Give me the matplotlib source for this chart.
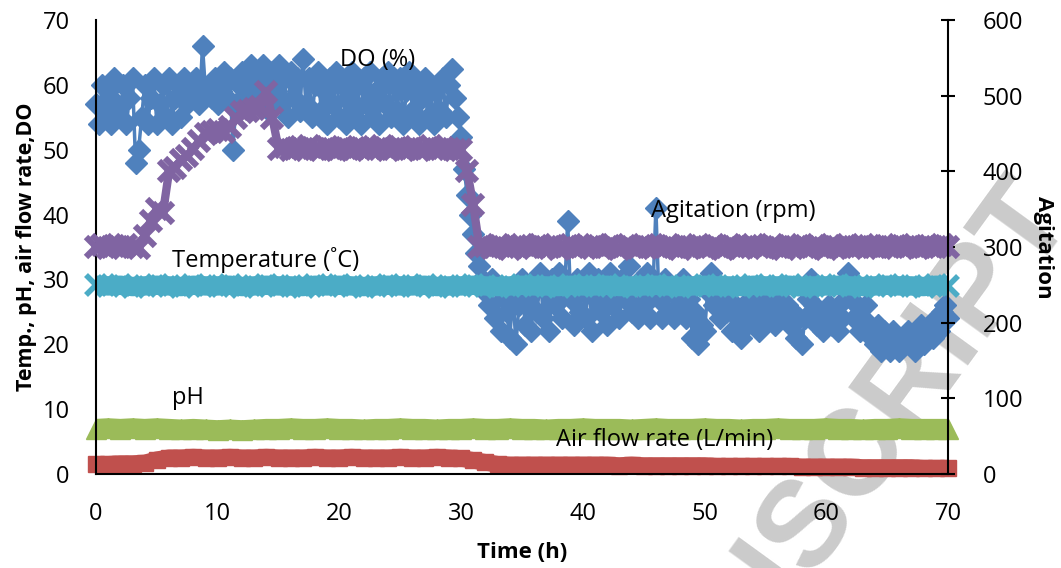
import numpy as np
import matplotlib.pyplot as plt

# ---------------------------------
# valores
# ---------------------------------

# DO (%), cada 0.25 h
do_pct = [
    57, 54, 60, 56,  59, 54, 61, 57,  55, 60, 54, 58,  61, 48, 50, 55,  60, 54, 58, 61,
    54, 57, 60, 55,  61, 54, 58, 60,  55, 61, 57, 59,  58, 61, 57, 66,  59, 60, 58, 61,
    57, 59, 62, 58,  61, 50, 57, 60,  62, 58, 61, 63,  59, 62, 58, 63,  60, 56, 62, 59,
    63, 57, 61, 55,  62, 58, 61, 56,  64, 57, 61, 55,  60, 62, 56, 59,  54, 61, 57, 62,
    55, 60, 54, 58,  62, 56, 60, 54,  61, 57, 62, 55,  59, 54, 61, 57,  62, 55, 60, 56,
    61, 54, 59, 62,  56, 60, 54, 58,  61, 55, 59, 54,  60, 56, 61, 55,  60, 62.5, 58, 55,
    52, 47, 43, 40,  37, 34, 32, 30,  28, 26, 30, 24,  29, 22, 27, 25,  21, 28, 20, 26,
    30, 23, 27, 22,  29, 25, 31, 24,  28, 22, 30, 26,  31, 24, 28, 39,  27, 23, 30, 25,
    29, 24, 31, 22,  27, 30, 25, 28,  23, 31, 26, 29,  24, 30, 27, 32,  25, 29, 24, 30,
    26, 31, 24, 28,  41, 27, 24, 30,  25, 29, 24, 28,  26, 30, 24, 27,  21, 25, 20, 23,
    22, 28, 31, 26,  29, 24, 27, 25,  28, 22, 26, 24,  21, 25, 23, 27,  24, 26, 22, 25,
    27, 24, 26, 23,  25, 27, 24, 26,  23, 25, 21, 24,  20, 24, 27, 30,  26, 23, 25, 22,
    24, 26, 23, 25,  22, 24, 27, 31,  27, 24, 26, 22,  24, 26, 23, 21,  20, 23, 19, 22,
    21, 19, 22, 20,  19, 21, 20, 22,  21, 19, 20, 23,  20, 22, 23, 21,  24, 22, 25, 26,
    24,
]

# agitacion (rpm), cada 0.5 h
agit_rpm = [
    300, 302, 299, 301, 300, 302, 300, 299,
    315, 335, 350, 345, 400, 405, 415, 420, 430, 440, 450, 452,
    455, 452, 458, 470, 478, 480, 482, 485, 505, 470,
    430, 432, 428, 431, 429, 433, 430, 428, 432, 430, 429, 431, 428, 432, 430,
    431, 429, 433, 428, 430, 432, 429, 431, 428, 430, 433, 429, 431, 430, 428,
    428, 400, 355, 300,
    301, 299, 302, 300, 298, 301, 303, 300, 299, 302, 300, 301, 298, 300, 302,
    299, 301, 300, 303, 299, 300, 302, 298, 301, 300, 299, 302, 300, 301, 299,
    303, 300, 298, 301, 300, 302, 299, 300, 301, 298, 302, 300, 299, 301, 303,
    300, 299, 302, 300, 298, 301, 300, 302, 299, 301, 300, 298, 302, 300, 301,
    299, 300, 302, 301, 300, 299, 301, 300, 302, 300, 301, 299, 300, 301, 300,
    302, 300,
]

# temperatura, pH y caudal de aire, cada 1 h
temp_c = [
    29.1, 29.0, 29.1, 28.9, 29.0, 29.1, 29.0, 28.9, 29.1, 29.0,
    29.0, 29.1, 28.9, 29.0, 29.1, 29.0, 29.0, 28.9, 29.1, 29.0,
    29.1, 29.0, 28.9, 29.0, 29.1, 29.0, 29.0, 29.1, 28.9, 29.0,
    29.0, 29.1, 29.0, 28.9, 29.0, 29.1, 29.0, 29.0, 28.9, 29.1,
    29.0, 29.0, 29.1, 28.9, 29.0, 29.0, 29.1, 29.0, 28.9, 29.0,
    29.1, 29.0, 29.0, 28.9, 29.1, 29.0, 29.0, 29.1, 28.9, 29.0,
    29.0, 29.1, 29.0, 28.9, 29.0, 29.1, 29.0, 29.0, 28.9, 29.1,
    29.0,
]

ph = [
    7.0, 7.1, 7.0, 7.1, 7.0, 7.1, 7.0, 6.9, 7.0, 6.9,
    6.8, 6.9, 6.8, 6.9, 7.0, 7.0, 7.1, 7.0, 7.0, 7.1,
    7.0, 7.0, 6.9, 7.0, 7.0, 7.1, 7.0, 7.0, 6.9, 7.0,
    7.0, 7.1, 7.0, 7.0, 7.1, 7.0, 7.0, 6.9, 7.0, 7.0,
    7.1, 7.0, 7.0, 7.0, 6.9, 7.0, 7.1, 7.0, 7.0, 7.0,
    7.1, 7.0, 7.0, 6.9, 7.0, 7.0, 7.1, 7.0, 7.0, 7.0,
    7.1, 7.0, 7.0, 6.9, 7.0, 7.0, 7.1, 7.0, 7.0, 7.0,
    7.0,
]

airflow = [
    1.5, 1.5, 1.6, 1.6, 1.7, 2.2, 2.5, 2.5, 2.6, 2.5,
    2.5, 2.6, 2.5, 2.5, 2.6, 2.5, 2.5, 2.5, 2.6, 2.5,
    2.5, 2.6, 2.5, 2.5, 2.5, 2.6, 2.5, 2.5, 2.6, 2.5,
    2.4, 2.1, 1.8, 1.5, 1.4, 1.4, 1.4, 1.4, 1.4, 1.4,
    1.4, 1.4, 1.4, 1.3, 1.4, 1.3, 1.3, 1.3, 1.3, 1.3,
    1.3, 1.2, 1.2, 1.2, 1.2, 1.2, 1.2, 1.2, 1.1, 1.1,
    1.1, 1.1, 1.1, 1.0, 1.0, 1.0, 1.0, 1.0, 0.9, 0.9,
    0.9,
]

t_do = np.arange(len(do_pct)) * 0.25
t_agit = np.arange(len(agit_rpm)) * 0.5
t_hora = np.arange(len(temp_c)) * 1.0

# ---------------------------------
# figura
# ---------------------------------

plt.rcParams['font.family'] = ['Open Sans', 'DejaVu Sans']

fig = plt.figure(figsize=(10.61, 5.68), dpi=100)
ax = fig.add_axes([96 / 1061, 1 - 474 / 568, (948 - 96) / 1061, (474 - 20) / 568])
ax2 = ax.twinx()

# marca de agua (queda detras de los ejes)
fig.text(0.560, -0.53, 'MANUSCRIPT', color='#cbcbcb', fontsize=88,
         fontweight='bold', family='Liberation Sans', rotation=54,
         rotation_mode='anchor', ha='left', va='baseline', zorder=-1)
ax.patch.set_visible(False)

azul = '#4f81bd'
rojo = '#c0504d'
verde = '#9bbb59'
violeta = '#8064a2'
celeste = '#4bacc6'

ax.plot(t_do, do_pct, color=azul, lw=2.5, marker='D', ms=11.5, mec=azul, clip_on=False)
ax.plot(t_hora, airflow, color=rojo, lw=12, solid_capstyle='butt', marker='s', ms=12,
        mec=rojo, clip_on=False)
ax.plot(t_hora, ph, color=verde, lw=14, solid_capstyle='butt', marker='^', ms=15,
        mec=verde, clip_on=False)
ax.plot(t_hora, temp_c, color=celeste, lw=14, solid_capstyle='butt', marker='x', ms=14,
        mew=4, mec=celeste, clip_on=False)
ax2.plot(t_agit, agit_rpm, color=violeta, lw=6, marker='x', ms=15, mew=4.5, mec=violeta,
         clip_on=False)

ax.set_xlim(0, 70)
ax.set_ylim(0, 70)
ax2.set_ylim(0, 600)
ax.set_xticks(np.arange(0, 71, 10))
ax.set_yticks(np.arange(0, 71, 10))
ax2.set_yticks(np.arange(0, 601, 100))

for a in (ax, ax2):
    a.spines['top'].set_visible(False)
ax.spines['right'].set_visible(False)
ax.spines['left'].set_linewidth(1.5)
ax.spines['bottom'].set_linewidth(1.5)
ax2.spines['right'].set_linewidth(1.5)
ax2.spines['left'].set_visible(False)
ax2.spines['bottom'].set_visible(False)

ax.tick_params(axis='x', length=0, pad=20, labelsize=17)
ax.tick_params(axis='y', length=0, pad=19, labelsize=17)
ax2.tick_params(axis='y', direction='inout', length=10, width=1.5, pad=20, labelsize=17)

ax.set_xlabel('Time (h)', fontsize=16, fontweight='bold', labelpad=12)
ax.set_ylabel('Temp., pH, air flow rate,DO', fontsize=15.5, fontweight='bold', labelpad=4)
ax2.set_ylabel('Agitation', fontsize=16, fontweight='bold', rotation=-90, labelpad=22)

# nombres de las series
for x, y, txt in [(20.05, 63.85, 'DO (%)'), (45.6, 40.55, 'Agitation (rpm)'),
                  (6.25, 33.0, 'Temperature (˚C)'), (6.25, 11.75, 'pH'),
                  (37.8, 5.25, 'Air flow rate (L/min)')]:
    ax2.text(x, y, txt, transform=ax.transData, fontsize=17, ha='left', va='center', zorder=10)

fig.savefig('out.png', dpi=100)
